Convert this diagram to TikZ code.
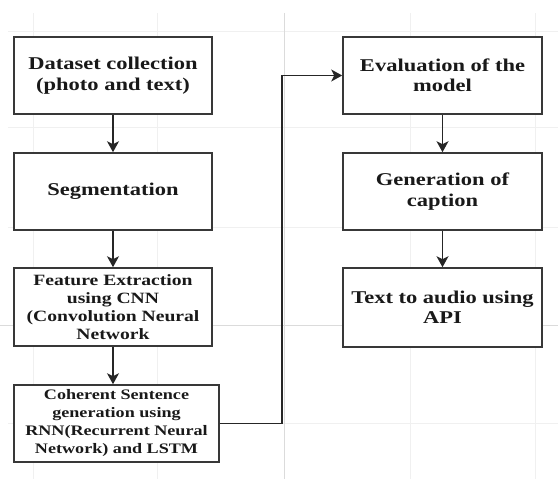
\documentclass[tikz,border=0pt]{standalone}
\usepackage{fontspec}
\setmainfont{Liberation Serif}[FakeStretch=1.25]
\usetikzlibrary{arrows.meta, positioning}

\begin{document}
\begin{tikzpicture}[x=1bp, y=-1bp,
    stagebox/.style={draw=black!78, line width=1.6bp, fill=white, align=center,
        minimum width=198bp, minimum height=77bp, inner sep=2bp, text=black!90,
        font=\bfseries\fontsize{18bp}{20.5bp}\selectfont},
    smallbox/.style={stagebox, font=\bfseries\fontsize{15.7bp}{18bp}\selectfont},
    flow/.style={-{Stealth[length=11bp,width=12bp,inset=3bp]}, line width=1.4bp, black!85}]
    \useasboundingbox (0,0) rectangle (558,479);
    % faint grid behind the flow
    \foreach\x in {33,157,410,535}
        \draw[black!6, line width=1bp] (\x,13) -- (\x,479);
    \foreach\y in {32,128,227,423}
        \draw[black!6, line width=1bp] (8,\y) -- (558,\y);
    \draw[black!14, line width=1bp] (284,13) -- (284,479);
    \draw[black!14, line width=1bp] (0,325) -- (558,325);

    % left column
    \node[stagebox] (data) at (113,75.5) {Dataset collection\\(photo and text)};
    \node[stagebox] (seg)  at (113,191.5) {Segmentation};
    \node[smallbox, minimum height=78bp] (feat) at (113,307)
        {Feature Extraction\\using CNN\\(Convolution Neural\\Network};
    \node[smallbox, minimum width=205bp, font=\bfseries\fontsize{14.5bp}{18bp}\selectfont]
        (rnn) at (116.5,423.5)
        {Coherent Sentence\\generation using\\RNN(Recurrent Neural\\Network) and LSTM};

    % right column
    \node[stagebox, minimum width=199bp] (eval)  at (442.5,75.5) {Evaluation of the\\model};
    \node[stagebox, minimum width=199bp] (capt)  at (442.5,191.5) {Generation of\\caption};
    \node[stagebox, minimum width=199bp, minimum height=79bp] (audio) at (442.5,307.5)
        {Text to audio using\\API};

    \draw[flow] (data) -- (seg);
    \draw[flow] (seg) -- (feat);
    \draw[flow] (feat) -- (feat |- rnn.north);
    \draw[flow] (eval) -- (capt);
    \draw[flow] (capt) -- (audio);
    \coordinate (bend) at (282,423.5);
    \draw[flow] (rnn.east) -- (bend) |- (eval.west);
\end{tikzpicture}
\end{document}
